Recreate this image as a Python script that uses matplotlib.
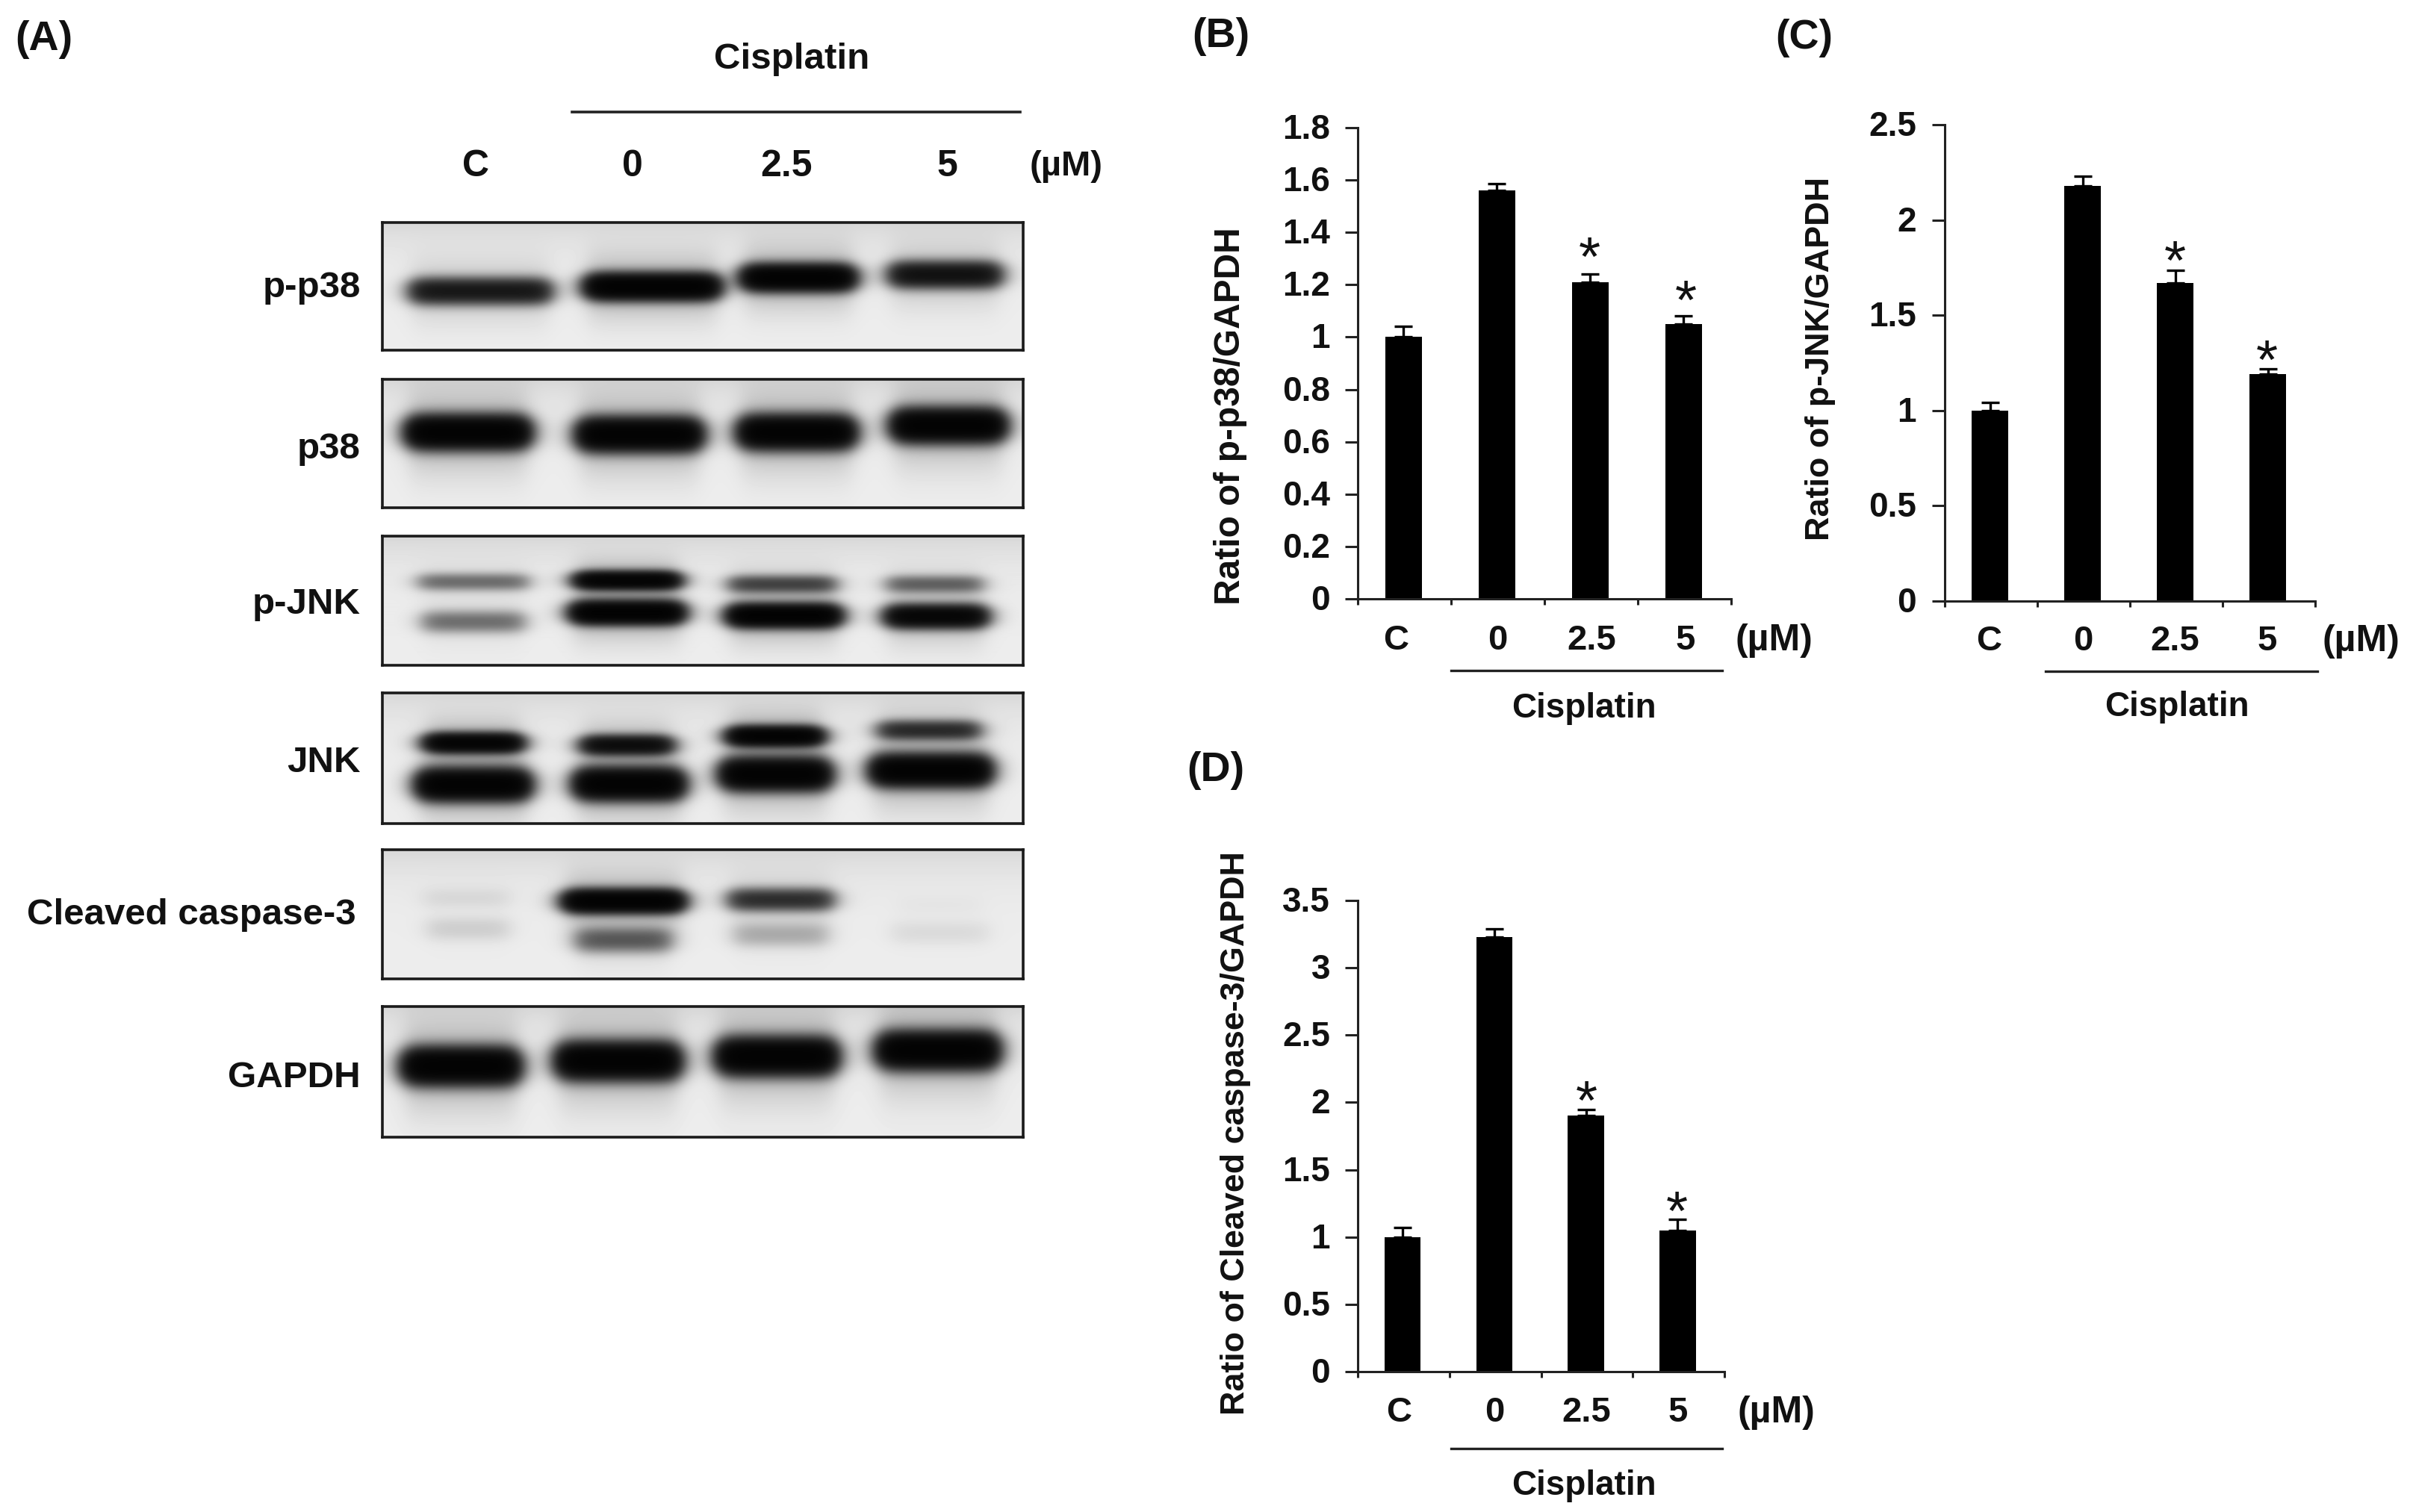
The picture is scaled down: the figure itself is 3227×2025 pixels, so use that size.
import numpy as np
import matplotlib

matplotlib.use("Agg")

import matplotlib.pyplot as plt

W, H = 3227, 2025
FONT = "Liberation Sans"
plt.rcParams["font.family"] = FONT

# bar data
CATS = ["C", "0", "2.5", "5"]
P38_VALUES = [1.0, 1.56, 1.21, 1.05]
P38_ERR = [0.042, 0.025, 0.03, 0.03]
P38_TICKS = [0, 0.2, 0.4, 0.6, 0.8, 1, 1.2, 1.4, 1.6, 1.8]
JNK_VALUES = [1.0, 2.18, 1.67, 1.19]
JNK_ERR = [0.044, 0.05, 0.065, 0.03]
JNK_TICKS = [0, 0.5, 1, 1.5, 2, 2.5]
CASP_VALUES = [1.0, 3.23, 1.9, 1.05]
CASP_ERR = [0.07, 0.06, 0.045, 0.08]
CASP_TICKS = [0, 0.5, 1, 1.5, 2, 2.5, 3, 3.5]

# blot band strengths per lane (C, 0, 2.5, 5), 0 = nothing, 1 = saturated
BLOT_NAMES = ["p-p38", "p38", "p-JNK", "JNK", "Cleaved caspase-3", "GAPDH"]
PP38_BAND = [0.78, 1.0, 1.0, 0.82]
P38_BAND = [1.0, 1.0, 1.0, 1.0]
PJNK_UPPER = [0.5, 0.95, 0.6, 0.52]
PJNK_LOWER = [0.5, 1.0, 1.0, 0.92]
JNK_UPPER = [0.95, 0.85, 0.98, 0.68]
JNK_LOWER = [1.0, 1.0, 1.0, 1.0]
CASP_UPPER = [0.2, 1.0, 0.68, 0.12]
CASP_LOWER = [0.25, 0.55, 0.35, 0.2]
GAPDH_BAND = [1.0, 1.0, 1.0, 1.0]

# panel top/bottom in pixels, and the bands in them: strengths, x edges, y, half height
BLOT_LEFT, BLOT_RIGHT = 512, 1370
BLOT_ROWS = [
    (298, 469, [(PP38_BAND, [(545, 742), (780, 967), (990, 1148), (1187, 1344)], [390, 384, 372, 368], 16)]),
    (508, 680, [(P38_BAND, [(541, 713), (770, 943), (986, 1148), (1191, 1349)], [579, 582, 579, 570], 20)]),
    (718, 891, [(PJNK_UPPER, [(555, 713), (766, 914), (971, 1124), (1182, 1321)], [780, 778, 783, 783], 11),
                (PJNK_LOWER, [(560, 708), (761, 919), (971, 1129), (1182, 1325)], [833, 821, 825, 826], 14)]),
    (928, 1103, [(JNK_UPPER, [(565, 703), (775, 904), (971, 1105), (1172, 1316)], [995, 998, 986, 978], 12),
                 (JNK_LOWER, [(555, 713), (766, 919), (962, 1115), (1163, 1330)], [1051, 1050, 1037, 1032], 19)]),
    (1138, 1311, [(CASP_UPPER, [(560, 689), (751, 919), (971, 1120), (1196, 1321)], [1203, 1207, 1205, 1213], 14),
                  (CASP_LOWER, [(565, 689), (766, 904), (976, 1115), (1187, 1330)], [1244, 1259, 1252, 1249], 16)]),
    (1348, 1523, [(GAPDH_BAND, [(536, 699), (742, 914), (957, 1124), (1172, 1340)], [1428, 1421, 1415, 1407], 22)]),
]
BLOT_LABEL_Y = [383, 598, 807, 1019, 1223, 1440]


def px_axes(fig, x0, y0, x1, y1):
    return fig.add_axes([x0 / W, 1 - y1 / H, (x1 - x0) / W, (y1 - y0) / H])


def put(fig, x, y, s, size=33, ha="center", weight="bold", **kw):
    fig.text(x / W, 1 - (y + 3) / H, s, fontsize=size, ha=ha, va="center", weight=weight,
             color="#111111", **kw)


def draw_blot(fig, top, bottom, bands):
    xs = np.arange(BLOT_LEFT, BLOT_RIGHT) + 0.5
    ys = np.arange(top, bottom) + 0.5
    xx, yy = np.meshgrid(xs, ys)
    signal = np.zeros_like(xx)
    for strengths, edges, centers, half in bands:
        for d, (x0, x1), yc in zip(strengths, edges, centers):
            along = 1 / (1 + np.exp((x0 + 8 - xx) / 8)) / (1 + np.exp((xx - x1 + 8) / 8))
            core = np.exp(-(np.abs(yy - yc) / half) ** 2.2)
            halo = np.exp(-((yy - yc) / (half * 2.6)) ** 2)
            signal += d ** 2.5 * along * (4.0 * core + 0.28 * halo)
    # background is a bit darker at the top edge of the membrane
    back = 0.93 - 0.09 * np.exp(-(yy - top) / 35)
    img = back * np.exp(-signal)
    ax = px_axes(fig, BLOT_LEFT, top, BLOT_RIGHT, bottom)
    ax.imshow(img, cmap="gray", vmin=0, vmax=1, aspect="auto", interpolation="bilinear")
    ax.set_xticks([])
    ax.set_yticks([])
    for sp in ax.spines.values():
        sp.set_linewidth(2.6)
        sp.set_color("#1a1a1a")


def bar_panel(fig, box, values, err, ticks, ylabel, label_xy, tick_right, cat_y, cat_xs,
              um_x, line, cis_xy, stars, label_size):
    x0, y0, x1, y1 = box
    ax = px_axes(fig, x0, y0, x1, y1)
    ax.bar(np.arange(4) + 0.49, values, width=0.395, color="black")
    ax.errorbar(np.arange(4) + 0.49, values, yerr=[[0] * 4, err], fmt="none", ecolor="black",
                elinewidth=2.4, capsize=8.5, capthick=2.4)
    ax.set_xlim(0, 4)
    ax.set_ylim(0, ticks[-1])
    ax.set_xticks(range(5))
    ax.set_xticklabels([])
    ax.set_yticks(ticks)
    ax.set_yticklabels([])
    ax.tick_params(axis="y", direction="out", length=12, width=2.2, color="#222222")
    ax.tick_params(axis="x", direction="out", length=6, width=2.2, color="#222222")
    ax.spines["top"].set_visible(False)
    ax.spines["right"].set_visible(False)
    ax.spines["left"].set_linewidth(2.2)
    ax.spines["bottom"].set_linewidth(2.2)
    ax.spines["left"].set_color("#222222")
    ax.spines["bottom"].set_color("#222222")
    ax.patch.set_alpha(0)

    for t in ticks:
        y = y1 - (y1 - y0) * t / ticks[-1]
        put(fig, tick_right, y, f"{t:g}", ha="right")
    put(fig, label_xy[0], label_xy[1], ylabel, size=label_size, rotation=90)
    for cx, c in zip(cat_xs, CATS):
        put(fig, cx, cat_y, c, size=34)
    put(fig, um_x, cat_y, "(µM)", size=36)
    fig.add_artist(plt.Line2D([line[0] / W, line[1] / W], [1 - line[2] / H] * 2, color="#222222", lw=2.4))
    put(fig, cis_xy[0], cis_xy[1], "Cisplatin", size=33)
    for sx, sy in stars:
        put(fig, sx, sy + 11, "*", size=54, weight="normal")


def main():
    fig = plt.figure(figsize=(W / 100, H / 100), dpi=100, facecolor="white")

    for top, bottom, bands in BLOT_ROWS:
        draw_blot(fig, top, bottom, bands)

    put(fig, 20, 50, "(A)", size=40, ha="left")
    put(fig, 1060, 77, "Cisplatin", size=35.5)
    fig.add_artist(plt.Line2D([766 / W, 1366 / W], [1 - 150 / H] * 2, color="#222222", lw=2.6))
    for cx, c in zip([637, 847, 1053, 1268], CATS):
        put(fig, cx, 220, c, size=36)
    put(fig, 1428, 220, "(µM)", size=34)
    for i, (name, y) in enumerate(zip(BLOT_NAMES, BLOT_LABEL_Y)):
        put(fig, 477 if i == 4 else 483, y, name, size=35.5, ha="right")

    put(fig, 1596, 46, "(B)", size=40, ha="left")
    put(fig, 2377, 48, "(C)", size=40, ha="left")
    put(fig, 1589, 1029, "(D)", size=40, ha="left")

    bar_panel(fig, (1818, 171, 2318, 802), P38_VALUES, P38_ERR, P38_TICKS, "Ratio of p-p38/GAPDH",
              (1647, 554), 1781, 855, [1869, 2005, 2131, 2257], 2375, (1943, 2306, 898), (2121, 946),
              [(2128, 335), (2257, 393)], 34.5)
    bar_panel(fig, (2604, 167, 3100, 805), JNK_VALUES, JNK_ERR, JNK_TICKS, "Ratio of p-JNK/GAPDH",
              (2437, 477), 2566, 856, [2663, 2789, 2912, 3036], 3161, (2739, 3103, 899), (2915, 944),
              [(2912, 340), (3035, 473)], 32.4)
    bar_panel(fig, (1818, 1206, 2309, 1837), CASP_VALUES, CASP_ERR, CASP_TICKS,
              "Ratio of Cleaved caspase-3/GAPDH",
              (1654, 1515), 1781, 1889, [1873, 2001, 2124, 2247], 2378, (1943, 2306, 1940), (2121, 1987),
              [(2124, 1465), (2245, 1613)], 32.3)

    fig.savefig("out.png", dpi=100, facecolor="white")
    plt.close(fig)


if __name__ == "__main__":
    main()
